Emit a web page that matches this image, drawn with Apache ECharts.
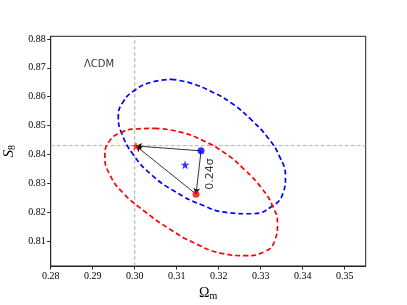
<!DOCTYPE html>
<html>
<head>
<meta charset="utf-8">
<script src="https://cdn.jsdelivr.net/npm/echarts@6/dist/echarts.min.js"></script>
<style>html,body{margin:0;padding:0;background:#fff}#c{width:407px;height:305px}</style>
</head>
<body>
<div id="c"></div>
<script>
// ---- data ----
const xTicks = [0.28, 0.29, 0.30, 0.31, 0.32, 0.33, 0.34, 0.35];
const yTicks = [0.81, 0.82, 0.83, 0.84, 0.85, 0.86, 0.87, 0.88];
const xRange = [0.28, 0.355];
const yRange = [0.8013, 0.8809];
const refOm = 0.300;
const refS8 = 0.843;

const blueEllipse = [
  [0.3088,0.8660],[0.3135,0.8646],[0.3183,0.8617],[0.3231,0.8577],[0.3278,0.8519],
  [0.3318,0.8456],[0.3345,0.8392],[0.3359,0.8323],[0.3353,0.8265],[0.3326,0.8219],
  [0.3278,0.8194],[0.3222,0.8198],[0.3159,0.8225],[0.3096,0.8271],[0.3040,0.8329],
  [0.2997,0.8398],[0.2969,0.8473],[0.2961,0.8531],[0.2973,0.8583],[0.3001,0.8623],
  [0.3040,0.8650],[0.3088,0.8660]
];
const redEllipse = [
  [0.3048,0.8490],[0.3104,0.8479],[0.3159,0.8450],[0.3215,0.8404],[0.3262,0.8346],
  [0.3302,0.8283],[0.3329,0.8219],[0.3340,0.8161],[0.3334,0.8103],[0.3310,0.8063],
  [0.3262,0.8049],[0.3207,0.8057],[0.3143,0.8092],[0.3080,0.8144],[0.3024,0.8202],
  [0.2973,0.8265],[0.2941,0.8329],[0.2929,0.8392],[0.2939,0.8444],[0.2969,0.8477],
  [0.3005,0.8488],[0.3048,0.8490]
];
const redStar = [0.3003, 0.8429];
const blueDot = [0.3158, 0.8412];
const redDot = [0.3146, 0.8262];
const blueStar = [0.3120, 0.8364];
const sigmaLabelPos = [0.3179, 0.8332];
const sigmaLabel = '0.24σ';
const modelLabelPos = [0.2915, 0.8713];
const modelLabel = 'ΛCDM';

const STAR = 'path://M50,0 L61,35 L98,35 L68,57 L79,91 L50,70 L21,91 L32,57 L2,35 L39,35 Z';
const serif = 'Liberation Serif';
const sans = 'DejaVu Sans';

const chart = echarts.init(document.getElementById('c'), null, {renderer: 'canvas'});
const dashGrey = {color: '#b0b0b0', width: 1, type: [4, 2]};
const arrowStyle = {color: '#000', width: 0.8, type: 'solid'};

chart.setOption({
  animation: false,
  backgroundColor: '#fff',
  grid: {left: 50.7, right: 41.3, top: 36.3, bottom: 39, containLabel: false, outerBoundsMode: 'none',
    show: true, borderColor: '#222', borderWidth: 1, backgroundColor: 'transparent'},
  xAxis: {
    type: 'value', min: xRange[0], max: xRange[1],
    axisLine: {show: true, lineStyle: {color: '#222', width: 1}},
    axisTick: {show: true, length: 3.5, inside: false, customValues: xTicks, lineStyle: {color: '#222'}},
    axisLabel: {customValues: xTicks, formatter: v => v.toFixed(2), fontFamily: serif, fontSize: 10, color: '#000', margin: 5},
    splitLine: {show: false},
    name: '{a|Ω}{b|m}', nameLocation: 'middle', nameGap: 15,
    nameTextStyle: {rich: {a: {fontFamily: serif, fontSize: 14, color: '#000'}, b: {fontFamily: serif, fontSize: 10, color: '#000', padding: [7, 0, 0, 0]}}}
  },
  yAxis: {
    type: 'value', min: yRange[0], max: yRange[1],
    axisLine: {show: true, lineStyle: {color: '#222', width: 1}},
    axisTick: {show: true, length: 3.5, inside: false, customValues: yTicks, lineStyle: {color: '#222'}},
    axisLabel: {customValues: yTicks, formatter: v => v.toFixed(2), fontFamily: serif, fontSize: 10, color: '#000', margin: 5},
    splitLine: {show: false},
    name: '{a|S}{b|8}', nameLocation: 'middle', nameGap: 31,
    nameTextStyle: {rich: {a: {fontFamily: serif, fontStyle: 'italic', fontSize: 15, color: '#000'}, b: {fontFamily: serif, fontSize: 10, color: '#000', padding: [7, 0, 0, 0]}}}
  },
  series: [
    {type: 'line', data: [[xRange[0], refS8], [xRange[1], refS8]], symbol: 'none', lineStyle: dashGrey, silent: true, z: 1},
    {type: 'line', data: [[refOm, yRange[0]], [refOm, yRange[1]]], symbol: 'none', lineStyle: dashGrey, silent: true, z: 1},
    {type: 'line', data: blueEllipse, smooth: 0.5, symbol: 'none', lineStyle: {color: '#0000ff', width: 1.7, type: [5, 3]}, z: 2},
    {type: 'line', data: redEllipse, smooth: 0.5, symbol: 'none', lineStyle: {color: '#ff0000', width: 1.7, type: [5, 3]}, z: 2},
    {type: 'scatter', data: [], z: 3,
      markLine: {silent: true, symbol: ['none', 'arrow'], symbolSize: [5, 6], lineStyle: arrowStyle, label: {show: false},
        data: [
          [{coord: blueDot}, {coord: redStar}],
          [{coord: redDot}, {coord: redStar}],
          [{coord: blueDot}, {coord: redDot}]
        ]}
    },
    {type: 'scatter', data: [redDot], symbol: 'circle', symbolSize: 7, itemStyle: {color: '#ff0000'}, z: 5},
    {type: 'scatter', data: [blueDot], symbol: 'circle', symbolSize: 7, itemStyle: {color: '#0000ff'}, z: 5},
    {type: 'scatter', data: [redStar], symbol: STAR, symbolSize: 9, itemStyle: {color: '#ff0000'}, z: 6},
    {type: 'scatter', data: [blueStar], symbol: STAR, symbolSize: 9, itemStyle: {color: '#0000ff'}, z: 5},
    {type: 'scatter', data: [sigmaLabelPos], symbolSize: 0, z: 6,
      label: {show: true, position: 'inside', formatter: sigmaLabel, rotate: 90, fontFamily: sans, fontSize: 11, color: '#000'}},
    {type: 'scatter', data: [modelLabelPos], symbolSize: 0, z: 6,
      label: {show: true, position: 'inside', formatter: modelLabel, fontFamily: sans, fontSize: 10, color: '#000'}}
  ]
});
</script>
</body>
</html>
